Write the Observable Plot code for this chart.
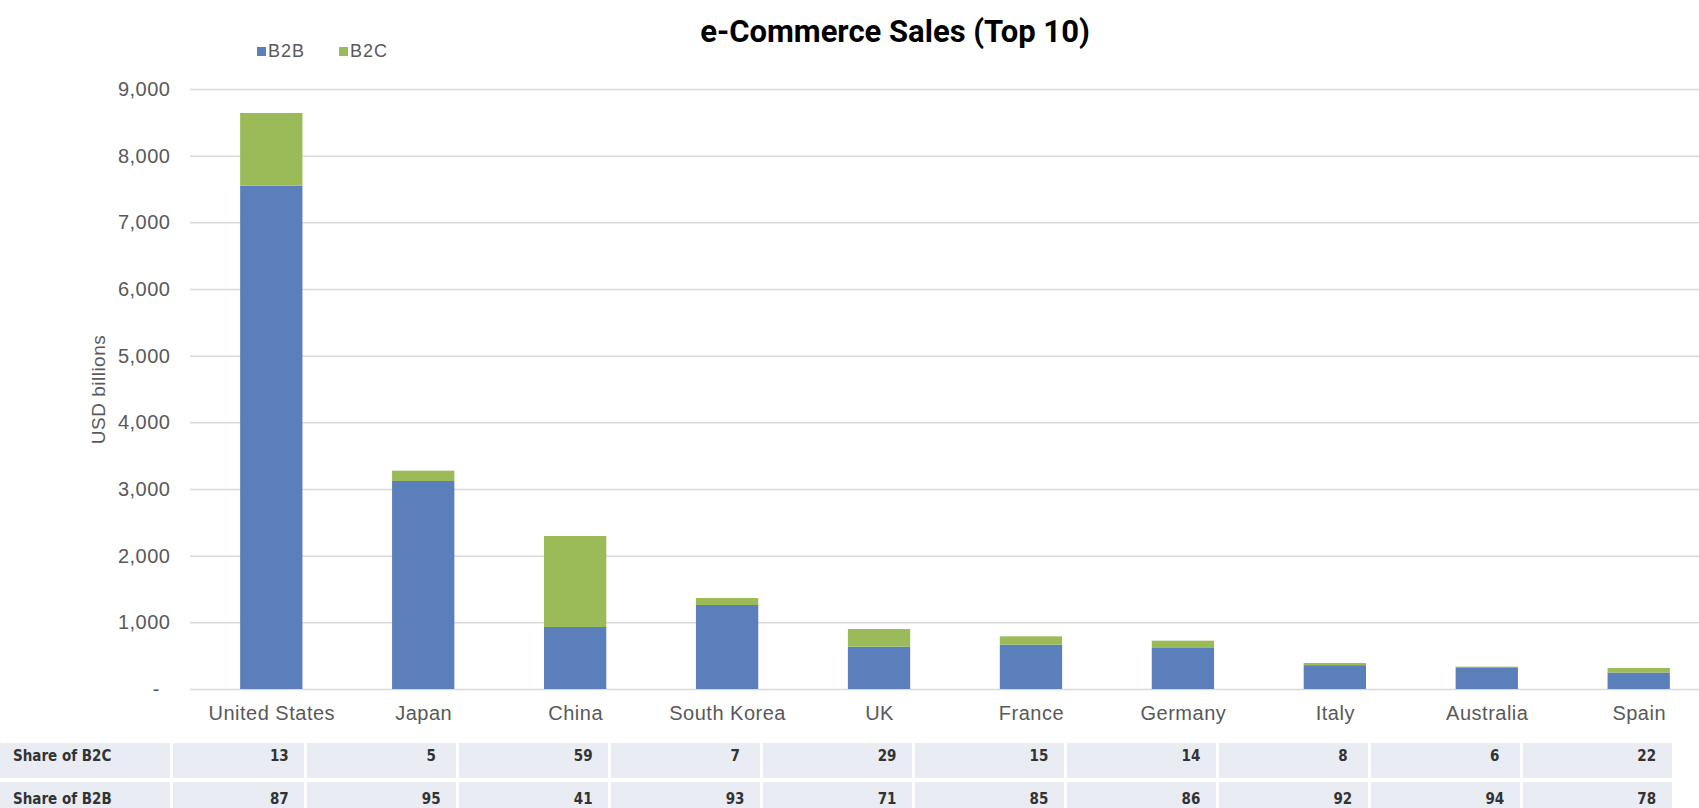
<!DOCTYPE html>
<html>
<head>
<meta charset="utf-8">
<script src="https://cdn.jsdelivr.net/npm/d3@7"></script>
<script src="https://cdn.jsdelivr.net/npm/@observablehq/plot@0.6"></script>
<style>
  body { margin: 0; background: #fff; }
  #wrap { position: relative; width: 1699px; height: 808px; overflow: hidden; background: #fff; }
  #header { position: relative; height: 70px; }
  #title { position: absolute; left: 895px; top: 13px; transform: translateX(-50%); font: 700 31px Roboto, "Liberation Sans", sans-serif; color: #000; white-space: nowrap; }
  .leg { position: absolute; top: 40px; font: 18px "Liberation Sans", Arial, sans-serif; color: #595959; letter-spacing: 1px; display: flex; align-items: center; height: 22px; }
  .sw { width: 9px; height: 9px; margin-right: 2px; display: inline-block; }
  #chart { position: absolute; left: 0; top: 70px; }
  #table { position: absolute; left: 0; top: 743px; width: 1699px; height: 65px; }
  .cell { position: absolute; background: #e9ecf3; }
  .tx { position: absolute; font: 700 15px "Liberation Sans Narrow", "DejaVu Sans Condensed", sans-serif; color: #333; white-space: nowrap; line-height: 16px; }
</style>
</head>
<body>
<div id="wrap">
  <div id="header">
    <div id="title">e-Commerce Sales (Top 10)</div>
  </div>
  <div id="chart"></div>
  <div id="table"></div>
</div>
<script>
// ---- data ----
const countries = ["United States", "Japan", "China", "South Korea", "UK", "France", "Germany", "Italy", "Australia", "Spain"];
const b2b = [7550, 3120, 930, 1260, 635, 665, 615, 358, 315, 247];
const b2c = [1090, 155, 1365, 105, 265, 125, 110, 32, 20, 68];
const shareB2C = [13, 5, 59, 7, 29, 15, 14, 8, 6, 22];
const shareB2B = [87, 95, 41, 93, 71, 85, 86, 92, 94, 78];
const rowLabels = ["Share of B2C", "Share of B2B"];
const series = ["B2B", "B2C"];
const seriesColors = ["#5b7fbb", "#9bbb59"];
const yTicks = [0, 1000, 2000, 3000, 4000, 5000, 6000, 7000, 8000, 9000];

const data = countries.flatMap((c, i) => [
  {country: c, type: "B2B", value: b2b[i]},
  {country: c, type: "B2C", value: b2c[i]}
]);

const fmt = d3.format(",");

// ---- legend ----
const header = document.getElementById("header");
const legendLeft = [257, 339];
series.forEach((s, i) => {
  const el = document.createElement("div");
  el.className = "leg";
  el.style.left = legendLeft[i] + "px";
  el.innerHTML = `<span class="sw" style="background:${seriesColors[i]}"></span>${s}`;
  header.appendChild(el);
});

// ---- chart ----
const plot = Plot.plot({
  width: 1699,
  height: 669,
  marginTop: 19,
  marginBottom: 50,
  marginLeft: 190,
  marginRight: -21,
  style: {fontFamily: "'Liberation Sans', Arial, sans-serif", fontSize: "20px", color: "#595959", background: "transparent", letterSpacing: "0.5px"},
  x: {domain: countries, paddingInner: 0.59, paddingOuter: 0.33, round: false, label: null},
  y: {domain: [0, 9000], label: null},
  color: {domain: series, range: seriesColors},
  marks: [
    Plot.gridY(yTicks, {stroke: "#d9d9d9", strokeOpacity: 1, strokeWidth: 1.5}),
    Plot.axisY(yTicks, {tickSize: 0, tickPadding: 20, fontSize: 20, label: null, tickFormat: d => d === 0 ? "-\u2002" : fmt(d)}),
    Plot.axisX({tickSize: 0, tickPadding: 16, fontSize: 20, label: null}),
    Plot.barY(data, {x: "country", y: "value", fill: "type", order: series}),
    Plot.text(["USD billions"], {text: d => d, frameAnchor: "left", textAnchor: "middle", rotate: -90, dx: -92, fontSize: 19, fill: "#595959"})
  ]
});
document.getElementById("chart").appendChild(plot);

// ---- table (positions from the plot's x scale) ----
const xs = plot.scale("x");
const bw = xs.bandwidth;
const table = document.getElementById("table");
const rowTops = [0, 39];
const rowHeights = [35, 30];
const textTops = [5, 48];
const labelEnd = 170;
const gap = 3;
const rowVals = [shareB2C, shareB2B];

rowLabels.forEach((lab, r) => {
  const top = rowTops[r], h = rowHeights[r];
  const lc = document.createElement("div");
  lc.className = "cell";
  lc.style.cssText = `left:0px;top:${top}px;width:${labelEnd}px;height:${h}px;`;
  table.appendChild(lc);
  const lt = document.createElement("div");
  lt.className = "tx";
  lt.textContent = lab;
  lt.style.cssText = `left:13px;top:${textTops[r]}px;`;
  table.appendChild(lt);
  let prevRight = labelEnd;
  countries.forEach((c, i) => {
    const center = xs.apply(c) + bw / 2;
    const right = center + 33;
    const left = prevRight + gap;
    const cell = document.createElement("div");
    cell.className = "cell";
    cell.style.cssText = `left:${left}px;top:${top}px;width:${right - left}px;height:${h}px;`;
    table.appendChild(cell);
    prevRight = right;
    const t = document.createElement("div");
    t.className = "tx";
    t.textContent = rowVals[r][i];
    t.style.cssText = `left:${center + 8}px;top:${textTops[r]}px;transform:translateX(-50%);`;
    table.appendChild(t);
  });
});
</script>
</body>
</html>
